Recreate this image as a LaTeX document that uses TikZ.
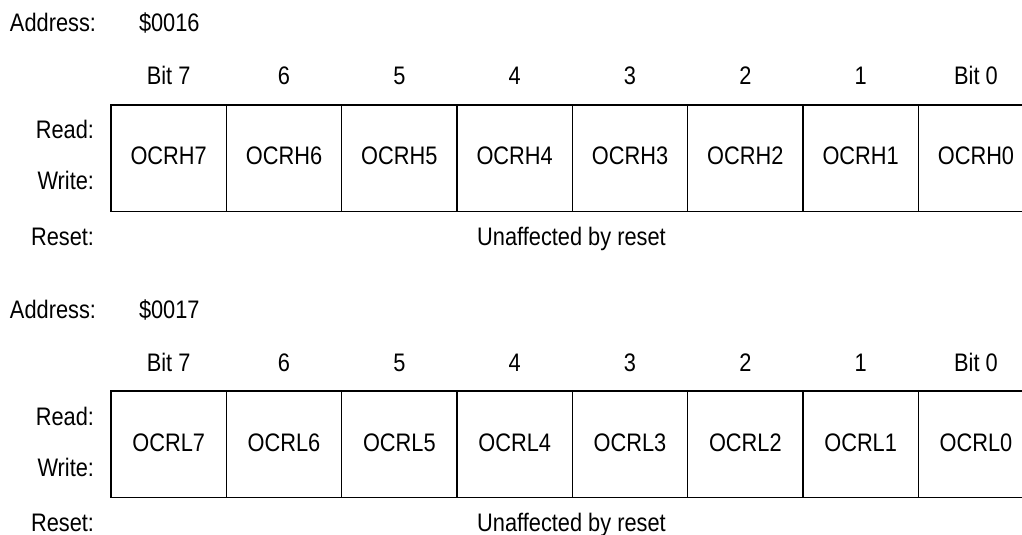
\documentclass[tikz,border=0pt]{standalone}
\usepackage{fontspec}
\setmainfont{Liberation Sans}[FakeStretch=0.86]
\begin{document}
\begin{tikzpicture}[x=0.75pt,y=-0.75pt,
  txt/.style={inner sep=0pt,outer sep=0pt,font=\fontsize{19}{22}\selectfont},
  lbl/.style={txt,anchor=base east},
  lft/.style={txt,anchor=base west},
  ctr/.style={txt,anchor=base},
  cell/.style={draw,line width=1.1pt,minimum width=86.5pt,minimum height=79.9pt,inner sep=0pt,outer sep=0pt}]
\useasboundingbox (0,0) rectangle (1022,535);
\clip (0,0) rectangle (1022,535);
\foreach \reg/\dy/\addr/\pre in {h/0/\$0016/OCRH, l/286/\$0017/OCRL}{
  \node[lft] (\reg addr) at (10,32+\dy) {Address:};
  \node[lft] (\reg addrv) at (139,32+\dy) {\addr};
  \node[lbl] (\reg read) at (94,139+\dy) {Read:};
  \node[lbl] (\reg write) at (94,190+\dy) {Write:};
  \node[lbl] (\reg reset) at (94,245.5+\dy) {Reset:};
  \foreach \i/\b in {0/Bit 7,1/6,2/5,3/4,4/3,5/2,6/1,7/Bit 0}{
    \pgfmathtruncatemacro{\n}{7-\i}
    \node[cell] (\reg\n) at (168.67+115.33*\i,158.3+\dy) {};
    \node[ctr] (\reg b\n) at (168.67+115.33*\i,85+\dy) {\b};
    \node[ctr] (\reg t\n) at (168.67+115.33*\i,165+\dy) {\pre\n};
  }
  \node[ctr] (\reg unaff) at (571.5,245.5+\dy) {Unaffected by reset};
}
\end{tikzpicture}
\end{document}
